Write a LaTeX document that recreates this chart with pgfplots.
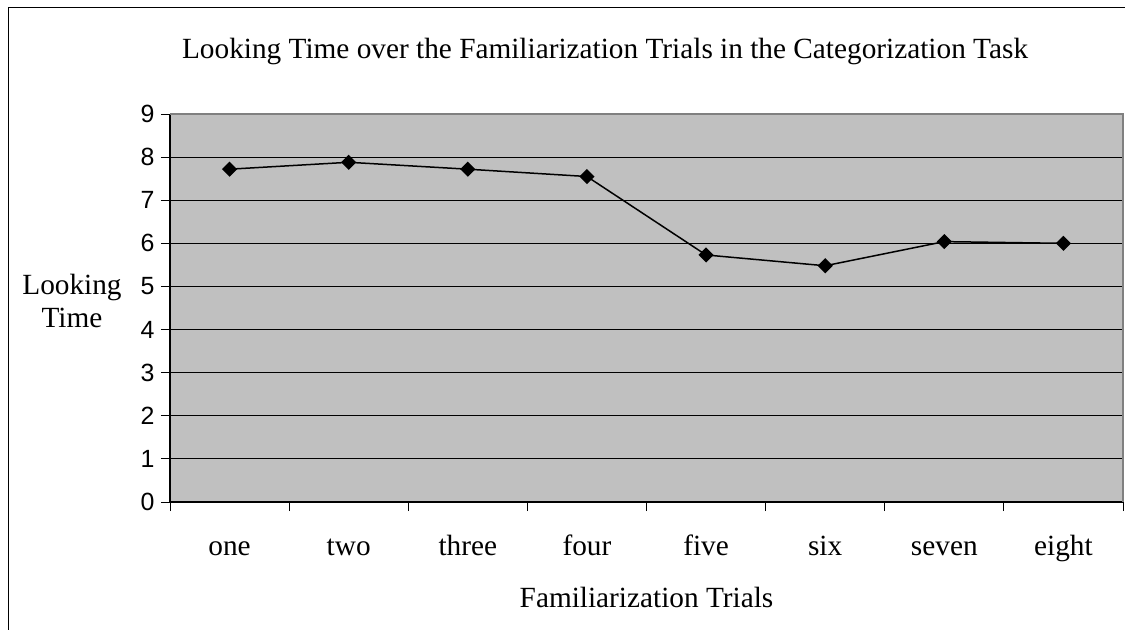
\documentclass[border=0pt]{standalone}
\usepackage{fontspec}
\setmainfont{Liberation Serif}
\newfontfamily\arialfont{Liberation Sans}
\usepackage{pgfplots}
\pgfplotsset{compat=1.18}
\definecolor{plotgray}{HTML}{C0C0C0}
\definecolor{bordergray}{HTML}{808080}
\begin{document}
\begin{tikzpicture}
\useasboundingbox (0,0) rectangle (1125bp,-630bp);
\clip (0,0) rectangle (1125bp,-630bp);
\fill[white] (0,0) rectangle (1125bp,-630bp);
\draw[black, line width=1.5bp] (8.5bp,-640bp) -- (8.5bp,-7.5bp) -- (1140bp,-7.5bp);
\begin{axis}[
  at={(170bp,-502bp)}, anchor=south west,
  scale only axis, width=953bp, height=388bp,
  xmin=0.5, xmax=8.5, ymin=0, ymax=9,
  axis background/.style={fill=plotgray},
  axis x line*=bottom, axis y line*=left,
  axis line style={black, line width=1.2bp},
  xtick={0.5,1.5,...,8.5}, xticklabels={},
  extra x ticks={1,2,3,4,5,6,7,8},
  extra x tick labels={one,two,three,four,five,six,seven,eight},
  extra x tick style={major tick length=0pt, grid=none,
    xticklabel style={anchor=base, yshift=-53bp, font=\fontsize{29.4}{34}\selectfont}},
  ytick={0,1,...,9},
  yticklabel style={font=\arialfont\fontsize{25}{29}\selectfont, xshift=-3bp},
  /pgf/number format/assume math mode=true,
  ymajorgrids, grid style={black, line width=0.9bp},
  tick align=outside, major tick length=9bp,
  tick style={black, line width=1bp},
  title={Looking Time over the Familiarization Trials in the Categorization Task},
  every axis title/.style={at={(axis description cs:0.4565,1)}, anchor=base, yshift=56bp, font=\fontsize{29.4}{34}\selectfont},
  xlabel={Familiarization Trials},
  every axis x label/.style={at={(axis description cs:0.5,0)}, anchor=base, yshift=-105bp, font=\fontsize{29.4}{34}\selectfont},
  ylabel={Looking\\Time},
  every axis y label/.style={at={(axis description cs:0,0.5)}, anchor=center, xshift=-98bp, yshift=7bp, align=center, font=\fontsize{29.4}{34}\selectfont},
  clip=false,
]
\addplot[black, line width=1.5bp, mark=square*, mark size=4.6bp,
  mark options={rotate=45, fill=black, solid}]
  coordinates {(1,7.72)(2,7.88)(3,7.72)(4,7.55)(5,5.73)(6,5.48)(7,6.04)(8,6.00)};
\draw[bordergray, line width=1.2bp] (rel axis cs:0,1) -- (rel axis cs:1,1) -- (rel axis cs:1,0);
\end{axis}
\end{tikzpicture}
\end{document}
